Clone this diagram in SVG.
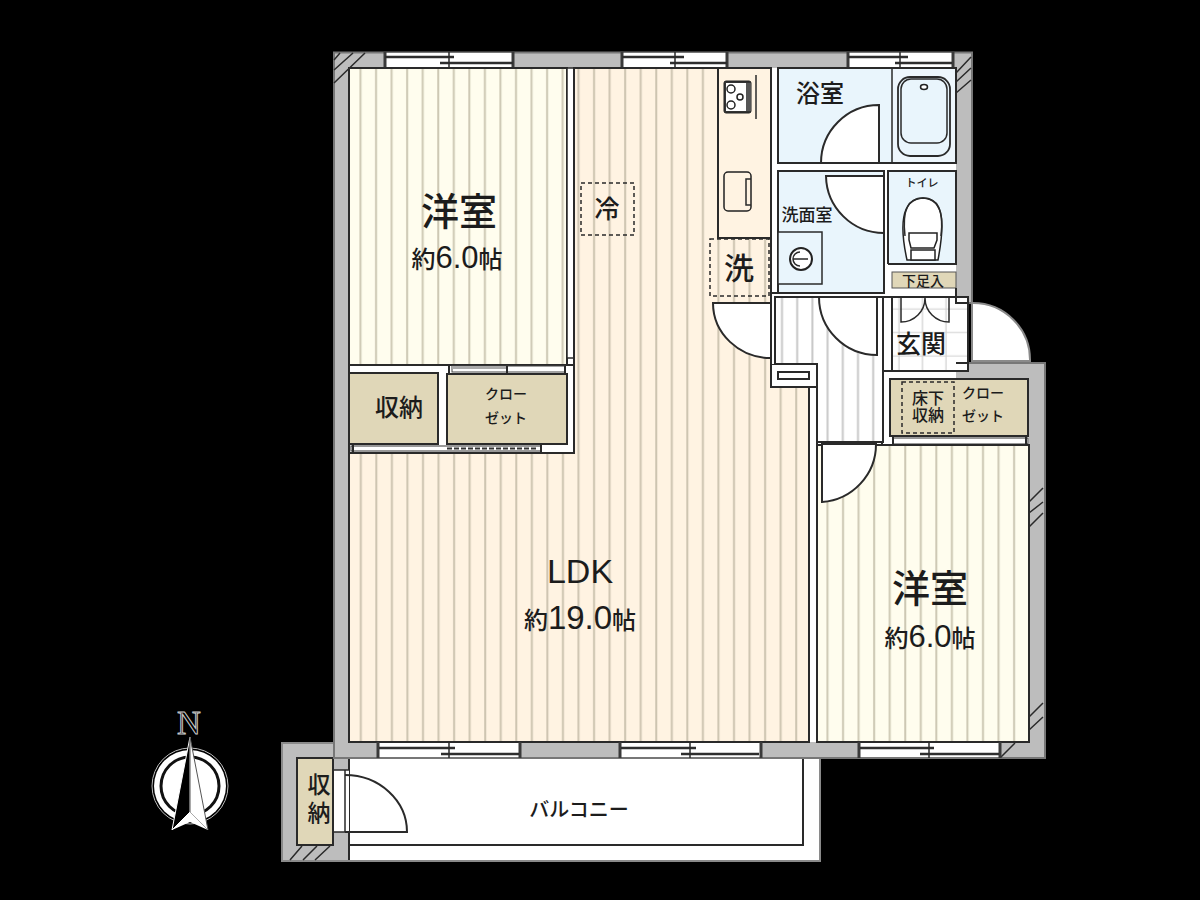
<svg xmlns="http://www.w3.org/2000/svg" width="1200" height="900" viewBox="0 0 1200 900">
<style>
text{font-family:"Liberation Sans","Noto Sans CJK JP",sans-serif;fill:#1c1c1c;text-anchor:middle;font-weight:500}
.c{font-size:24px}
.l{stroke:#2a2a2a;stroke-width:2;fill:none}
.h{stroke:#2a2a2a;stroke-width:1.5;fill:none}
.t{stroke:#2a2a2a;stroke-width:1.5;fill:none}
.w{stroke:#2a2a2a;stroke-width:2;fill:#fff}
.g{fill:#bdbdbd}
.s{fill:#e0d7b8;stroke:#2a2a2a;stroke-width:2}
.d{stroke:#2a2a2a;stroke-width:1.5;stroke-dasharray:4 3;fill:none}
.b{stroke:#3a3a3a;stroke-width:3;fill:none}
.e{stroke:#2e2e2e;stroke-width:2.500;fill:none}
.v{stroke:#2a2a2a;stroke-width:1.500;fill:none}
</style>
<defs>
<pattern id="pb" patternUnits="userSpaceOnUse" x="352.500" y="0" width="15.55" height="10"><rect width="15.55" height="10" fill="#fffdee"/><rect x="7" width="2" height="10" fill="#cdc8b4"/></pattern>
<pattern id="pl" patternUnits="userSpaceOnUse" x="570.500" y="0" width="15.55" height="10"><rect width="15.55" height="10" fill="#fff3e2"/><rect x="7" width="2" height="10" fill="#cdc4b0"/></pattern>
<pattern id="pc" patternUnits="userSpaceOnUse" x="819.500" y="0" width="15.55" height="10"><rect width="15.55" height="10" fill="#fffdee"/><rect x="7" width="2" height="10" fill="#cdc8b4"/></pattern>
<pattern id="ph" patternUnits="userSpaceOnUse" x="774" y="0" width="15.2" height="10"><rect width="15.2" height="10" fill="#fff"/><rect x="7" width="2" height="10" fill="#c8c8c8"/></pattern>
<pattern id="pt" patternUnits="userSpaceOnUse" x="892" y="297" width="23.5" height="23.5"><rect width="23.5" height="23.5" fill="#fff"/><path d="M7 0V23.5M0 12H23.5" stroke="#d0d0d0" stroke-width="1.2"/></pattern>
</defs>
<rect width="1200" height="900" fill="#000"/>

<g id="balcony">
<path d="M282 743H349V758H820V861H282Z" fill="#fff" stroke="#8a8a8a" stroke-width="2"/>
<path d="M283 744H349V860H283Z" class="g"/>
<path d="M349 758V845H803V758" class="l"/>
<path d="M349 845V860" class="l"/>
<path d="M290 860L302 846M303 860L317 846M315 860L330 846" class="h"/>
<rect x="333" y="770" width="16" height="62" fill="#fff"/>
<path d="M333 770H349M333 832H349M345 770V832" class="t"/>
<rect x="297" y="758" width="36" height="87" class="s"/>
<path d="M345 775A62 57 0 0 1 407 832H345" class="l"/>
<text x="317" y="801" font-size="23" style="writing-mode:vertical-rl;letter-spacing:5px">収納</text>
<text x="579" y="817" font-size="20">バルコニー</text>
</g>

<g id="walls">
<path d="M334 52.500H972V303H968V363H1045V758H334Z" class="g" stroke="#777" stroke-width="2"/>
<rect x="349" y="68" width="225" height="385" fill="#fff"/>
<rect x="574" y="68" width="382" height="229" fill="#fff"/>
<rect x="771" y="297" width="197" height="74" fill="#fff"/>
<rect x="771" y="364" width="120" height="81" fill="#fff"/>
<path d="M349 453H809V742H349Z" fill="#fff"/>
<rect x="809" y="380" width="220" height="362" fill="#fff"/>
<rect x="880" y="371" width="76" height="8" fill="#fff"/>
<path d="M334 60L340 53M334 70L353 53M334 83L365 53M956 73L971 57M956 82L971 68M956 93L971 80" class="h"/>
<path d="M1029 502L1043 488M1029 513L1043 502M1029 527L1043 513M1001 757L1015 743M1029 717L1043 703M1029 730L1043 717" class="h"/>
</g>

<g id="room-bedroom-1">
<rect x="349" y="68" width="218" height="297" fill="url(#pb)" stroke="#2a2a2a" stroke-width="2"/>
<path d="M574 68V453" class="l"/>
<rect x="567" y="68" width="7" height="290" fill="#fff" stroke="#2a2a2a" stroke-width="1.500"/>
<text x="459" y="225" font-size="38">洋室</text>
<text x="457" y="268" class="c">約<tspan font-size="31">6.0</tspan>帖</text>
</g>

<g id="room-ldk">
<path d="M574 68H771V387H809V742H349V453H574Z" fill="url(#pl)" stroke="#2a2a2a" stroke-width="2"/>
<rect x="581" y="183" width="53" height="52" class="d"/>
<text x="607" y="218" font-size="25">冷</text>
<text x="580" y="583" font-size="34">LDK</text>
<text x="580" y="629" class="c">約<tspan font-size="33">19.0</tspan>帖</text>
</g>

<g id="closets-left">
<rect x="349" y="365" width="225" height="88" fill="#fff" stroke="#2a2a2a" stroke-width="2"/>
<rect x="349" y="373" width="89" height="71" class="s"/>
<rect x="447" y="374" width="120" height="70" class="s"/>
<path d="M349 444V453" class="l"/>
<rect x="452" y="366" width="113" height="6" fill="#fff" stroke="#444"/>
<rect x="452" y="366" width="56" height="3" fill="#aaa"/>
<path d="M449 366V373M507 366V373M565 366V373" class="l"/>
<rect x="351" y="446" width="190" height="5" fill="#fff" stroke="#333"/>
<path d="M447 448.500H538" stroke="#333" stroke-width="2" stroke-dasharray="5 2"/>
<path d="M353 445V452M541 445V452" class="l"/>
<text x="399" y="416" font-size="24">収納</text>
<text x="506" font-size="14"><tspan x="506" y="399">クロー</tspan><tspan x="506" y="423">ゼット</tspan></text>
</g>

<g id="kitchen">
<rect x="718" y="68" width="53" height="170" fill="#fff3e2" stroke="#2a2a2a" stroke-width="2"/>
<rect x="724" y="81" width="27" height="32" rx="2" fill="#333" stroke="#222"/>
<rect x="726" y="83" width="20" height="28" fill="#fff"/>
<circle cx="731" cy="89" r="4" fill="#fff" stroke="#222" stroke-width="1.500"/>
<circle cx="731" cy="105" r="4" fill="#fff" stroke="#222" stroke-width="1.500"/>
<circle cx="740" cy="97" r="3" fill="#fff" stroke="#222" stroke-width="1.500"/>
<path d="M746 83H751V111H746Z" fill="#555"/>
<path d="M756 75V119" class="t"/>
<rect x="724" y="172" width="27" height="39" rx="4" fill="#fff3e2" stroke="#222" stroke-width="1.500"/>
<path d="M751 179H746V205H751" class="t"/>
<rect x="710" y="239" width="59" height="57" fill="#fff3e2" class="d"/>
<text x="739" y="279" font-size="30">洗</text>
</g>

<g id="room-bath">
<rect x="778" y="68" width="178" height="95" fill="#e9f5fc" stroke="#2a2a2a" stroke-width="2"/>
<path d="M892 68V163" class="t"/>
<rect x="893" y="69" width="62" height="93" fill="#edf6fc"/>
<rect x="898" y="77" width="52" height="79" rx="12" fill="#e9f5fc" stroke="#2a2a2a" stroke-width="1.800"/>
<rect x="901" y="79" width="46" height="64" rx="10" fill="#e9f5fc" stroke="#2a2a2a" stroke-width="1.500"/>
<ellipse cx="924" cy="87" rx="3.500" ry="2.500" fill="#fff" stroke="#222" stroke-width="1.500"/>
<path d="M879 105A58 58 0 0 0 821 163H879Z" class="w"/>
<text x="820" y="102" font-size="24">浴室</text>
</g>

<g id="room-washroom">
<rect x="778" y="171" width="106" height="122" fill="#e9f5fc" stroke="#2a2a2a" stroke-width="2"/>
<path d="M826 176A58 58 0 0 0 884 233V176Z" class="w"/>
<rect x="778" y="232" width="44" height="52" fill="#e9f5fc" stroke="#2a2a2a" stroke-width="1.500"/>
<circle cx="801" cy="259" r="11" fill="#fff" stroke="#222" stroke-width="2"/>
<path d="M793 259H808M800 252A7 7 0 0 0 800 266" class="t"/>
<text x="807" y="221" font-size="17">洗面室</text>
</g>

<g id="room-toilet">
<rect x="888" y="171" width="68" height="93" fill="#e9f5fc" stroke="#2a2a2a" stroke-width="2"/>
<path d="M907 260C900 228 900 199 923 198C946 199 944 228 938 260Z" fill="#fff" stroke="#222" stroke-width="1.500"/>
<path d="M905 236C902 210 908 198 923 198C938 198 944 210 941 236" class="t"/>
<path d="M909 233H937V240L934 248H911L909 240ZM911 250H935V260H911Z" fill="#fff" stroke="#222" stroke-width="1.500"/>
<text x="922" y="187" font-size="11">トイレ</text>
<rect x="892" y="272" width="64" height="16" fill="#e0d7b8" stroke="#555" stroke-width="1"/>
<text x="923" y="286" font-size="14">下足入</text>
<rect x="884" y="171" width="4" height="122" fill="#fff"/>
<path d="M884 171V293M888 171V264" class="l"/>
</g>

<g id="hall">
<path d="M775 297H883V442H817V364H775Z" fill="url(#ph)" stroke="#2a2a2a" stroke-width="2"/>
<rect x="771" y="364" width="46" height="23" fill="#fff" stroke="#2a2a2a" stroke-width="2"/>
<rect x="778" y="372" width="31" height="7" fill="#fff" stroke="#2a2a2a" stroke-width="2"/>
<rect x="771" y="296" width="4" height="68" fill="#fff"/>
<path d="M771 296V364M775 296V364" class="l"/>
<path d="M817 387V742M809 387V742" class="l"/>
<path d="M713 303A58 55 0 0 0 771 358V303Z" class="w"/>
<path d="M819 297A58 58 0 0 0 877 355V297Z" class="w"/>
<path d="M771 293H884M883 297H892" class="l"/>
</g>

<g id="entrance">
<path d="M972 303A57 57 0 0 1 1030 361H972Z" fill="#fff" stroke="#8a8a8a" stroke-width="2"/>
<rect x="892" y="297" width="76" height="74" fill="url(#pt)" stroke="#2a2a2a" stroke-width="2"/>
<path d="M901 297V322A24 24 0 0 0 925 298A24 24 0 0 0 949 322V297" fill="#fff" class="t"/>
<text x="921" y="353" font-size="25">玄関</text>
<path d="M956 288V303H968M956 363H968V371" class="l"/>
<path d="M883 297V371" class="l"/>
</g>

<g id="closet-right">
<rect x="890" y="379" width="138" height="57" class="s"/>
<rect x="902" y="382" width="52" height="51" class="d"/>
<text x="928" font-size="16"><tspan x="928" y="404">床下</tspan><tspan x="928" y="421">収納</tspan></text>
<text x="983" font-size="14"><tspan x="983" y="398">クロー</tspan><tspan x="983" y="421">ゼット</tspan></text>
<rect x="893" y="438" width="135" height="6" fill="#fff" stroke="#333"/>
<path d="M893 436V445M1026 436V445" class="l"/>
<path d="M883 371H892M883 371V442M892 297V371" class="l"/>
</g>

<g id="room-bedroom-2">
<path d="M817 445H1029V742H817Z" fill="url(#pc)" stroke="#2a2a2a" stroke-width="2"/>
<path d="M876 444A58 58 0 0 1 822 502V444Z" class="w"/>
<path d="M817 442H882V445" class="l"/>
<text x="930" y="602" font-size="38">洋室</text>
<text x="930" y="647" class="c">約<tspan font-size="31">6.0</tspan>帖</text>
</g>

<g id="windows">
<rect x="385" y="53" width="128" height="14" fill="#fff"/>
<path d="M385 52V67M513 52V67" class="b"/><path d="M385 57H454M440 63H513" class="e"/><path d="M449 52V67" class="v"/>
<rect x="622" y="53" width="105" height="14" fill="#fff"/>
<path d="M622 52V67M727 52V67" class="b"/><path d="M622 57H684M670 63H727" class="e"/><path d="M675 52V67" class="v"/>
<rect x="848" y="53" width="105" height="14" fill="#fff"/>
<path d="M848 52V67M953 52V67" class="b"/><path d="M848 57H908M895 63H952" class="e"/><path d="M900 52V67" class="v"/>
<rect x="378" y="743" width="142" height="14" fill="#fff"/>
<path d="M378 742V758M520 742V758" class="b"/><path d="M379 748H455M441 754H519" class="e"/><path d="M449 742V758" class="v"/>
<rect x="620" y="743" width="141" height="14" fill="#fff"/>
<path d="M620 742V758M761 742V758" class="b"/><path d="M621 748H696M681 754H759" class="e"/><path d="M690 742V758" class="v"/>
<rect x="859" y="743" width="141" height="14" fill="#fff"/>
<path d="M859 742V758M1000 742V758" class="b"/><path d="M860 748H934M920 754H999" class="e"/><path d="M929 742V758" class="v"/>
</g>

<g id="compass">
<circle cx="190" cy="786" r="38" fill="none" stroke="#bbb" stroke-width="1"/>
<circle cx="190" cy="786" r="36" fill="#fff"/>
<circle cx="190" cy="786" r="29" fill="none" stroke="#111" stroke-width="3"/>
<path d="M190 737L172 830L190 812Z" fill="#000" stroke="#fff" stroke-width="1"/>
<path d="M190 737L208 830L190 812Z" fill="#fff" stroke="#555" stroke-width="1"/>
<path d="M172 830L190 812L208 830L190 822Z" fill="#fff"/>
<text x="189" y="734" font-size="33" style="font-family:'Liberation Serif',serif;fill:#000;stroke:#ccc;stroke-width:1">N</text>
</g>
</svg>
